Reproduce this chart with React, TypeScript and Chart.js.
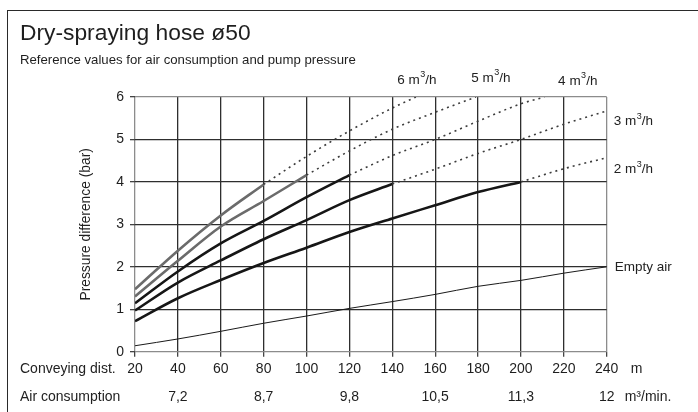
import React, { useEffect, useRef } from "react";
import { Chart, registerables } from "chart.js";

Chart.register(...registerables);

// ---- data ----
const distances = [20, 40, 60, 80, 100, 120, 140, 160, 180, 200, 220, 240];
const pressureTicks = [0, 1, 2, 3, 4, 5, 6];
const airConsumptionAt = [40, 80, 120, 160, 200, 240];
const airConsumptionLabels = ["7,2", "8,7", "9,8", "10,5", "11,3", "12"];

// solid parts (values at distances from 20 m on)
const flow6Solid = [1.47, 2.38, 3.21, 3.94];
const flow5Solid = [1.3, 2.14, 2.95, 3.55, 4.16];
const flow4Solid = [1.14, 1.89, 2.55, 3.08, 3.64, 4.16];
const flow3Solid = [0.97, 1.63, 2.15, 2.65, 3.1, 3.57, 3.95];
const flow2Solid = [0.72, 1.26, 1.69, 2.09, 2.45, 2.82, 3.14, 3.45, 3.76, 4.0];
const emptyAir = [0.14, 0.3, 0.48, 0.67, 0.84, 1.02, 1.18, 1.35, 1.54, 1.68, 1.85, 2.0];

// dotted extrapolations
const flow6DotX = [80, 100, 120, 140, 151];
const flow6DotY = [3.94, 4.6, 5.2, 5.74, 6.0];
const flow5DotX = [100, 120, 140, 160, 179];
const flow5DotY = [4.16, 4.73, 5.24, 5.64, 6.0];
const flow4DotX = [120, 140, 160, 180, 200, 211];
const flow4DotY = [4.16, 4.62, 5.0, 5.43, 5.84, 6.0];
const flow3DotX = [140, 160, 180, 200, 220, 240];
const flow3DotY = [3.95, 4.3, 4.67, 5.0, 5.36, 5.67];
const flow2DotX = [200, 220, 240];
const flow2DotY = [4.0, 4.31, 4.57];

const FONT = "'Liberation Sans', Arial, sans-serif";

const solidPts = (vals: number[]) => vals.map((y, i) => ({ x: distances[i], y }));
const dotPts = (xs: number[], ys: number[]) => xs.map((x, i) => ({ x, y: ys[i] }));

const labelsPlugin = {
  id: "curveLabels",
  afterDraw(chart: any) {
    const { ctx, chartArea, scales } = chart;
    const xs = scales.x;
    const ys = scales.y;
    ctx.save();
    ctx.fillStyle = "#222";
    ctx.textBaseline = "middle";

    const flowLabel = (num: string, x: number, y: number, align: "center" | "left") => {
      const big = `13.5px ${FONT}`;
      const small = `9px ${FONT}`;
      ctx.font = big;
      const p1 = `${num} m`;
      const w1 = ctx.measureText(p1).width;
      const p3 = "/h";
      const w3 = ctx.measureText(p3).width;
      ctx.font = small;
      const w2 = ctx.measureText("3").width + 0.5;
      const total = w1 + w2 + w3;
      const sx = align === "center" ? x - total / 2 : x;
      ctx.textAlign = "left";
      ctx.font = big;
      ctx.fillText(p1, sx, y);
      ctx.font = small;
      ctx.fillText("3", sx + w1 + 0.5, y - 5);
      ctx.font = big;
      ctx.fillText(p3, sx + w1 + w2, y);
    };

    flowLabel("6", xs.getPixelForValue(151.5), chartArea.top - 17, "center");
    flowLabel("5", xs.getPixelForValue(186), chartArea.top - 19, "center");
    flowLabel("4", xs.getPixelForValue(226.5), chartArea.top - 16, "center");
    flowLabel("3", chartArea.right + 7, ys.getPixelForValue(5.42), "left");
    flowLabel("2", chartArea.right + 7, ys.getPixelForValue(4.29), "left");

    ctx.font = `13.5px ${FONT}`;
    ctx.textAlign = "left";
    ctx.fillText("Empty air", chartArea.right + 8, ys.getPixelForValue(1.99));

    // bottom row captions
    ctx.font = `14px ${FONT}`;
    ctx.fillText("Conveying dist.", 20, chartArea.bottom + 17.5);
    ctx.fillText("m", chartArea.right + 24, chartArea.bottom + 17.5);
    ctx.fillText("Air consumption", 20, chartArea.bottom + 45.5);
    ctx.fillText("m³/min.", chartArea.right + 18, chartArea.bottom + 45.5);
    ctx.restore();
  },
};

export default function App() {
  const ref = useRef<HTMLCanvasElement | null>(null);

  useEffect(() => {
    if (!ref.current) return;
    const gridColor = (c: any) =>
      c.index === 0 || c.index === c.chart.scales[c.scale.id].ticks.length - 1 ? "#8c8c8c" : "#2e2e2e";

    const solid = (data: any[], color: string, width: number) => ({
      data,
      borderColor: color,
      borderWidth: width,
      pointRadius: 0,
      fill: false,
      cubicInterpolationMode: "monotone" as const,
    });
    const dotted = (data: any[]) => ({
      data,
      borderColor: "#3c3c3c",
      borderWidth: 1.6,
      borderDash: [2, 4],
      pointRadius: 0,
      fill: false,
      cubicInterpolationMode: "monotone" as const,
    });

    const chart = new Chart(ref.current, {
      type: "line",
      data: {
        datasets: [
          solid(solidPts(emptyAir), "#1a1a1a", 1),
          dotted(dotPts(flow6DotX, flow6DotY)),
          dotted(dotPts(flow5DotX, flow5DotY)),
          dotted(dotPts(flow4DotX, flow4DotY)),
          dotted(dotPts(flow3DotX, flow3DotY)),
          dotted(dotPts(flow2DotX, flow2DotY)),
          solid(solidPts(flow2Solid), "#161616", 2.6),
          solid(solidPts(flow3Solid), "#161616", 2.6),
          solid(solidPts(flow4Solid), "#161616", 2.6),
          solid(solidPts(flow5Solid), "#6b6b6b", 2.6),
          solid(solidPts(flow6Solid), "#6b6b6b", 2.6),
        ] as any,
      },
      options: {
        animation: false,
        responsive: false,
        events: [],
        layout: { padding: { left: 20, right: 91.3, top: 0, bottom: 0 } },
        plugins: {
          legend: { display: false },
          tooltip: { enabled: false },
          title: {
            display: true,
            text: "Dry-spraying hose ø50",
            align: "start",
            color: "#1e1e1e",
            font: { family: FONT, size: 22.8, weight: "normal" },
            padding: { top: 20, bottom: 0 },
          },
          subtitle: {
            display: true,
            text: "Reference values for air consumption and pump pressure",
            align: "start",
            color: "#1e1e1e",
            font: { family: FONT, size: 13.2 },
            padding: { top: 4.6, bottom: 29.2 },
          },
        },
        scales: {
          x: {
            type: "linear",
            position: "bottom",
            min: 20,
            max: 240,
            afterBuildTicks: (s: any) => {
              s.ticks = distances.map((v) => ({ value: v }));
            },
            afterFit: (s: any) => {
              s.height = 30;
            },
            grid: { color: gridColor, lineWidth: 1.3, tickLength: 5, tickColor: "#444" },
            border: { display: false },
            ticks: {
              color: "#1e1e1e",
              font: { family: FONT, size: 14 },
              padding: 4,
              maxRotation: 0,
              autoSkip: false,
            },
          },
          x2: {
            type: "linear",
            position: "bottom",
            min: 20,
            max: 240,
            afterBuildTicks: (s: any) => {
              s.ticks = airConsumptionAt.map((v) => ({ value: v }));
            },
            afterFit: (s: any) => {
              s.height = 30.3;
            },
            grid: { display: false, drawTicks: false },
            border: { display: false },
            ticks: {
              color: "#1e1e1e",
              font: { family: FONT, size: 14 },
              padding: 7,
              maxRotation: 0,
              autoSkip: false,
              callback: (v: any) => {
                const i = airConsumptionAt.indexOf(Number(v));
                return i >= 0 ? airConsumptionLabels[i] : "";
              },
            },
          },
          y: {
            type: "linear",
            min: 0,
            max: 6,
            afterBuildTicks: (s: any) => {
              s.ticks = pressureTicks.map((v) => ({ value: v }));
            },
            afterFit: (s: any) => {
              s.width = 115;
            },
            grid: { color: gridColor, lineWidth: 1.3, tickLength: 5, tickColor: "#444" },
            border: { display: false },
            ticks: {
              color: "#1e1e1e",
              font: { family: FONT, size: 14 },
              padding: 6,
            },
            title: {
              display: true,
              text: "Pressure difference (bar)",
              color: "#1e1e1e",
              font: { family: FONT, size: 13.8 },
              padding: { top: 58.2, bottom: 0 },
            },
          },
        },
      } as any,
      plugins: [labelsPlugin],
    });
    return () => chart.destroy();
  }, []);

  return (
    <div style={{ position: "fixed", left: 0, top: 0, width: 698, height: 412, background: "#fff", overflow: "hidden" }}>
      <canvas ref={ref} width={698} height={412} style={{ position: "absolute", left: 0, top: 0, width: 698, height: 412 }} />
      <div
        style={{
          position: "absolute",
          left: 7,
          top: 10,
          width: 700,
          height: 420,
          borderTop: "1.5px solid #2a2a2a",
          borderLeft: "1.5px solid #2a2a2a",
          pointerEvents: "none",
        }}
      />
    </div>
  );
}
